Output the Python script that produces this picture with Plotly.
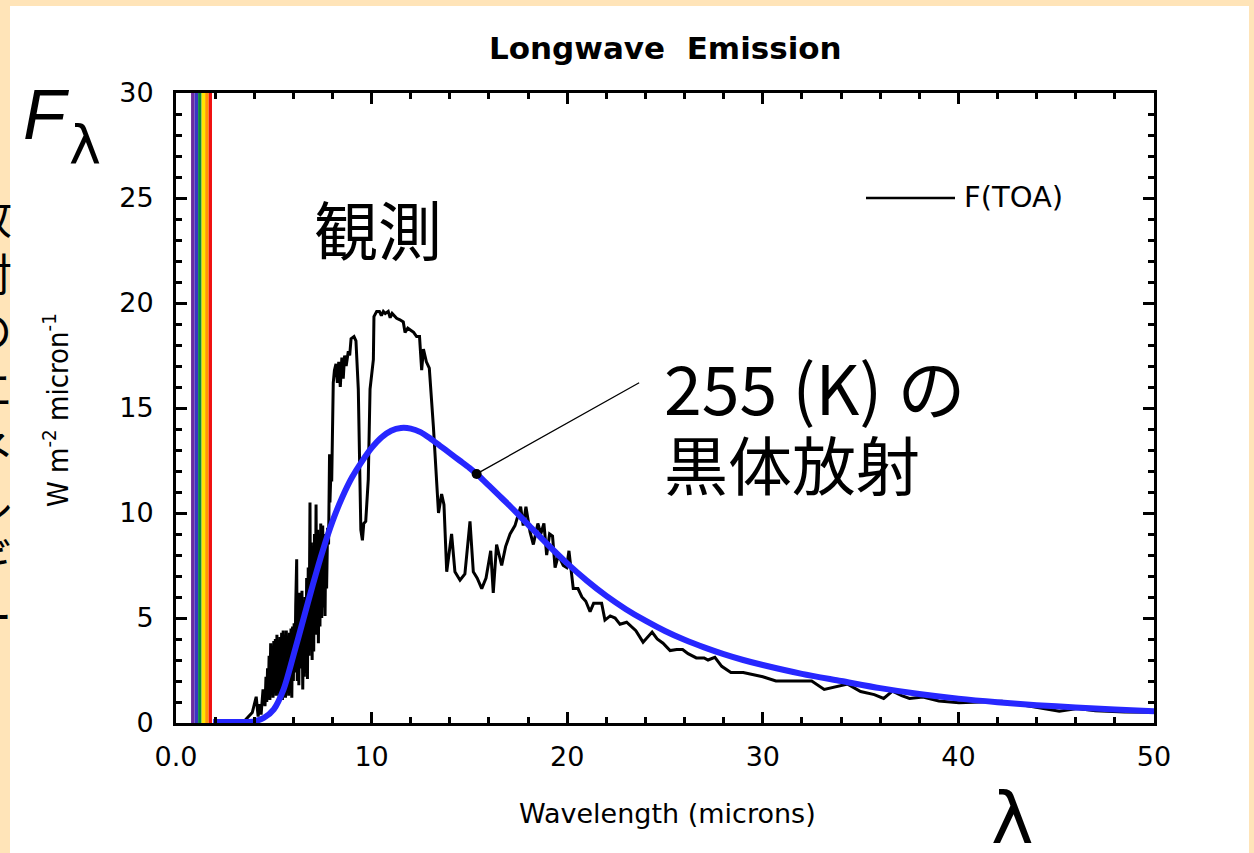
import plotly.graph_objects as go

# ---------------- data ----------------
obs_x = [3.4, 3.9, 4.1, 4.2, 4.26, 4.35, 4.45,
         4.55, 4.6, 4.64, 4.68, 4.72, 4.76, 4.8, 4.84, 4.88, 4.92, 4.96, 5.0, 5.04, 5.08, 5.12, 5.16,
         5.2, 5.24, 5.28, 5.32, 5.36, 5.4, 5.44, 5.48, 5.52, 5.56, 5.6, 5.64, 5.68, 5.72, 5.76, 5.8,
         5.84, 5.88, 5.92, 5.96, 6.0, 6.04, 6.08, 6.12, 6.17, 6.2, 6.24, 6.28, 6.32, 6.36, 6.4, 6.44,
         6.48, 6.52, 6.56, 6.6, 6.64, 6.68, 6.72, 6.76, 6.8, 6.85, 6.88, 6.92, 6.96, 7.0, 7.04, 7.08,
         7.12, 7.16, 7.2, 7.24, 7.28, 7.32, 7.36, 7.4, 7.45, 7.5, 7.54, 7.58, 7.62, 7.66, 7.7, 7.75,
         7.8, 7.85, 7.87, 7.92, 7.96,
         8.04, 8.1, 8.18, 8.25, 8.32, 8.4,
         8.48, 8.55, 8.62, 8.7, 8.81, 8.88, 8.95, 9.1, 9.2, 9.32, 9.4, 9.45, 9.53, 9.6, 9.7, 9.83,
         9.92, 10.09, 10.12, 10.26, 10.4, 10.5, 10.6, 10.7, 10.85, 10.95, 11.05, 11.15, 11.28, 11.45,
         11.62, 11.71, 11.85, 12.0, 12.15, 12.3, 12.45, 12.56, 12.65, 12.8, 12.95, 13.16, 13.3, 13.42,
         13.58, 13.7, 13.84, 14.09, 14.26, 14.52, 14.77, 15.03, 15.2, 15.4, 15.63, 15.85, 16.09,
         16.22, 16.39, 16.65, 16.85, 17.08, 17.33, 17.5, 17.62, 17.75, 17.89, 18.1, 18.27, 18.5,
         18.65, 18.81, 18.95, 19.1, 19.25, 19.38, 19.55, 19.8, 19.97, 20.09, 20.31, 20.55, 20.75,
         20.95, 21.17, 21.35, 21.6, 21.76, 21.93, 22.2, 22.45, 22.7, 23.04, 23.3, 23.51, 23.88,
         24.34, 24.6, 24.9, 25.26, 25.6, 25.9, 26.18, 26.6, 27.0, 27.2, 27.55, 27.9, 28.37, 29.0,
         29.5, 30.0, 30.67, 31.5, 32.5, 33.14, 33.8, 34.34, 35.0, 35.7, 36.18, 36.63, 37.1, 37.5,
         38.19, 39.0, 40.03, 41.0, 42.23, 43.0, 44.0, 45.16, 46.08, 47.0, 48.5, 50.0]
obs_y = [0.0, 0.5, 1.25, 0.3, 0.9, 0.4, 1.6,
         0.8, 2.2, 1.0, 2.6, 1.3, 3.2, 1.1, 3.8, 1.6, 3.5, 1.2, 3.9, 1.5, 4.0, 1.3, 4.2,
         1.7, 3.8, 1.2, 4.1, 1.9, 4.3, 1.1, 4.4, 1.5, 4.2, 1.2, 4.4, 2.0, 3.9, 1.3, 4.3,
         1.6, 4.5, 1.2, 4.6, 2.0, 4.75, 2.4, 5.6, 7.8, 2.0, 5.2, 1.8, 6.2, 2.6, 5.0, 6.3,
         1.6, 5.4, 2.2, 6.0, 2.4, 6.9, 2.1, 7.4, 3.2, 10.5, 4.0, 8.6, 3.0, 7.9, 3.4, 9.0,
         4.4, 10.4, 4.2, 9.2, 3.8, 8.4, 4.6, 9.5, 5.0, 9.4, 5.5, 8.8, 5.1, 9.0, 6.4, 9.3,
         8.5, 12.8, 10.5, 12.0, 11.5,
         16.2, 16.8, 17.1, 16.2, 17.2, 16.0,
         17.4, 16.4, 17.5, 17.0, 17.7, 17.5, 18.3, 18.4, 18.2, 15.9, 11.6, 9.2, 8.7, 9.5, 9.6, 11.6,
         15.9, 17.3, 19.35, 19.6, 19.6, 19.4, 19.6, 19.5, 19.6, 19.3, 19.5, 19.4, 19.27, 19.2,
         19.1, 18.6, 18.8, 18.7, 18.6, 18.4, 18.4, 16.8, 17.8, 17.2, 16.9, 14.1, 12.0, 10.0,
         10.9, 10.4, 7.2, 9.0, 7.2, 6.8, 7.1, 9.6, 7.2, 6.9, 6.4, 6.9, 8.2,
         6.2, 8.5, 7.5, 8.4, 9.0, 9.4, 10.0, 10.3, 9.4, 10.3, 9.1, 8.5, 9.5,
         9.0, 9.5, 8.0, 9.0, 8.9, 7.4, 8.0, 7.5, 7.4, 8.2, 6.4, 6.4, 6.0,
         5.8, 5.3, 5.7, 5.7, 5.7, 4.9, 5.1, 5.0, 4.7, 4.8, 4.6, 4.4, 3.85,
         4.33, 4.0, 3.8, 3.45, 3.5, 3.5, 3.3, 3.1, 3.1, 3.0, 3.13, 2.7, 2.41, 2.4,
         2.3, 2.2, 2.0, 2.0, 2.0, 1.6, 1.75, 1.85, 1.5, 1.35, 1.17, 1.52, 1.3, 1.17,
         1.24, 1.05, 0.96, 0.98, 1.04, 0.9, 0.75, 0.56, 0.69, 0.58, 0.52, 0.51]

bb_x = [1.9, 3.0, 3.5, 4.0, 4.5, 5.0, 5.5, 6.0, 6.5, 7.0, 7.5, 8.0, 8.5, 9.0, 9.5, 10.0, 10.5,
        11.0, 11.5, 12.0, 12.5, 13.0, 13.5, 14.0, 14.5, 15.0, 15.5, 16.0, 16.5, 17.0, 18.0, 19.0,
        20.0, 21.0, 22.0, 23.0, 24.0, 25.0, 26.0, 27.0, 28.0, 29.0, 30.0, 32.0, 34.0, 36.0,
        38.0, 40.0, 42.0, 44.0, 46.0, 48.0, 50.0]
bb_y = [0.05, 0.05, 0.05, 0.08, 0.25, 0.65, 1.6, 3.2, 4.9, 6.6, 8.2, 9.6, 10.75, 11.7, 12.45,
        13.1, 13.6, 13.92, 14.05, 14.02, 13.85, 13.55, 13.2, 12.85, 12.5, 12.15, 11.75, 11.3,
        10.85, 10.4, 9.45, 8.5, 7.6, 6.78, 6.05, 5.42, 4.87, 4.38, 3.96, 3.6, 3.28, 3.0, 2.76, 2.34,
        2.0, 1.66, 1.38, 1.16, 0.99, 0.85, 0.74, 0.64, 0.56]

dot_x, dot_y = 15.37, 11.86

rainbow_edges = [0.77, 0.95, 1.13, 1.31, 1.49, 1.67, 1.84]
rainbow_colors = ["#6B2A9E", "#3A34C4", "#0A8A3C", "#FFE600", "#FF9A00", "#F01010"]

x_ticks = [0, 10, 20, 30, 40, 50]
x_ticktext = ["0.0", "10", "20", "30", "40", "50"]
y_ticks = [0, 5, 10, 15, 20, 25, 30]

# ---------------- layout geometry ----------------
W, H = 1254, 853
L, R, T, B = 176, 100, 93, 130
PW, PH = W - L - R, H - T - B

def px(xp):
    return (xp - L) / PW

def py(yp):
    return (H - B - yp) / PH

ORANGE = "#FFE4B8"
FONT = "DejaVu Sans, Liberation Sans, sans-serif"
JFONT = "Noto Sans CJK JP, sans-serif"

fig = go.Figure()

fig.add_trace(go.Scatter(x=obs_x, y=obs_y, mode="lines",
                         line=dict(color="black", width=3), name="F(TOA)",
                         showlegend=False))
fig.add_trace(go.Scatter(x=bb_x, y=bb_y, mode="lines",
                         line=dict(color="#2727FF", width=6, shape="spline", smoothing=0.8),
                         showlegend=False))
fig.add_trace(go.Scatter(x=[dot_x], y=[dot_y], mode="markers",
                         marker=dict(color="black", size=10), showlegend=False))

shapes = []
for i, c in enumerate(rainbow_colors):
    shapes.append(dict(type="rect", xref="x", yref="y", x0=rainbow_edges[i], x1=rainbow_edges[i + 1],
                       y0=0, y1=30, fillcolor=c, line=dict(width=0), layer="below"))
# orange page frame
shapes.append(dict(type="rect", xref="paper", yref="paper", x0=px(0), x1=px(10), y0=py(H), y1=py(0),
                   fillcolor=ORANGE, line=dict(width=0), layer="below"))
shapes.append(dict(type="rect", xref="paper", yref="paper", x0=px(0), x1=px(W), y0=py(6), y1=py(0),
                   fillcolor=ORANGE, line=dict(width=0), layer="below"))
shapes.append(dict(type="rect", xref="paper", yref="paper", x0=px(1249), x1=px(W), y0=py(H), y1=py(0),
                   fillcolor=ORANGE, line=dict(width=0), layer="below"))
# legend sample line
shapes.append(dict(type="line", xref="paper", yref="paper", x0=px(866), x1=px(955), y0=py(198), y1=py(198),
                   line=dict(color="black", width=2.5)))


def label(text, xp, yp, size, family=FONT, **kw):
    d = dict(text=text, x=px(xp), y=py(yp), xref="paper", yref="paper", showarrow=False,
             xanchor="center", yanchor="middle", font=dict(family=family, size=size, color="black"))
    d.update(kw)
    return d


annotations = [
    label("<b>Longwave  Emission</b>", 665, 48, 31),
    label("F(TOA)", 962, 197, 29, xanchor="left"),
    label("W m<sup>-2</sup> micron<sup>-1</sup>", 56, 410, 29,
          family="Liberation Sans Narrow, DejaVu Sans Condensed, Liberation Sans", textangle=-90),
    label("Wavelength (microns)", 667, 813, 27),
    label("<i>F</i>", 46, 115, 70, family="Liberation Sans, sans-serif"),
    label("λ", 85, 145, 54, family="DejaVu Sans, sans-serif"),
    label("λ", 1012, 818, 72, family="DejaVu Sans, sans-serif"),
    label("観測", 312, 227, 64, family=JFONT, xanchor="left"),
    label("255 (K) の", 662, 385, 68, family=JFONT, xanchor="left"),
    label("黒体放射", 662, 462, 64, family=JFONT, xanchor="left"),
    dict(text="", x=dot_x, y=dot_y, xref="x", yref="y", showarrow=True, arrowhead=0,
         arrowwidth=1.3, arrowcolor="black", ax=640 - 476, ay=383 - 475, axref="pixel", ayref="pixel"),
    label("放<br>射<br>の<br>エ<br>ネ<br>ル<br>ギ<br>ー", 14, 415, 44, family=JFONT, xanchor="right"),
]

axis_common = dict(showline=True, linecolor="black", linewidth=3, mirror="allticks",
                   ticks="inside", ticklen=11, tickwidth=2.5, tickcolor="black",
                   showgrid=False, zeroline=False,
                   tickfont=dict(family=FONT, size=27, color="black"))

fig.update_layout(
    width=W, height=H, autosize=False,
    margin=dict(l=L, r=R, t=T, b=B, pad=0),
    paper_bgcolor="white", plot_bgcolor="white",
    shapes=shapes, annotations=annotations,
    xaxis=dict(range=[0, 50], tickvals=x_ticks, ticktext=x_ticktext, ticklabelstandoff=8,
               minor=dict(dtick=2, ticks="inside", ticklen=6, tickwidth=2.5, tickcolor="black", showgrid=False),
               **axis_common),
    yaxis=dict(range=[0, 30], tickvals=y_ticks, ticklabelstandoff=14,
               minor=dict(dtick=1, ticks="inside", ticklen=6, tickwidth=2.5, tickcolor="black", showgrid=False),
               **axis_common),
)

fig.write_html("out.html", config={"displayModeBar": False},
               post_script="document.body.style.margin='0px';")
